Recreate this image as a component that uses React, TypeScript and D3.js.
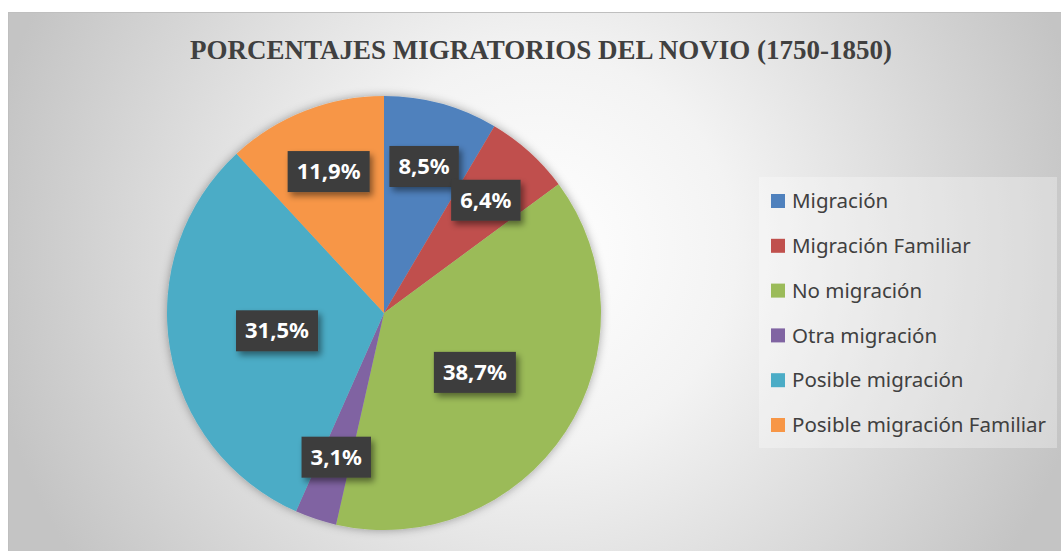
import React, { useEffect, useRef } from "react";
import * as d3 from "d3";

const title = "PORCENTAJES MIGRATORIOS DEL NOVIO (1750-1850)";
const categories = [
	"Migración",
	"Migración Familiar",
	"No migración",
	"Otra migración",
	"Posible migración",
	"Posible migración Familiar",
];
const values = [8.5, 6.4, 38.7, 3.1, 31.5, 11.9];
const labels = ["8,5%", "6,4%", "38,7%", "3,1%", "31,5%", "11,9%"];
const colors = ["#4F81BD", "#C0504D", "#9BBB59", "#8064A2", "#4BACC6", "#F79646"];

const W = 1061;
const H = 551;

export default function App() {
	const ref = useRef<SVGSVGElement>(null);

	useEffect(() => {
		const svg = d3.select(ref.current);
		svg.selectAll("*").remove();

		const defs = svg.append("defs");
		const grad = defs
			.append("radialGradient")
			.attr("id", "bg")
			.attr("gradientUnits", "userSpaceOnUse")
			.attr("cx", 540)
			.attr("cy", 250)
			.attr("r", 560);
		grad.append("stop").attr("offset", "0%").attr("stop-color", "#ffffff");
		grad.append("stop").attr("offset", "35%").attr("stop-color", "#f3f3f3");
		grad.append("stop").attr("offset", "100%").attr("stop-color", "#c4c4c4");

		const pieShadow = defs.append("filter").attr("id", "pieShadow")
			.attr("x", "-20%").attr("y", "-20%").attr("width", "140%").attr("height", "140%");
		pieShadow.append("feDropShadow")
			.attr("dx", 0).attr("dy", 0).attr("stdDeviation", 5)
			.attr("flood-color", "#000").attr("flood-opacity", 0.35);

		const boxShadow = defs.append("filter").attr("id", "boxShadow")
			.attr("x", "-20%").attr("y", "-30%").attr("width", "150%").attr("height", "180%");
		boxShadow.append("feDropShadow")
			.attr("dx", 3).attr("dy", 4).attr("stdDeviation", 3)
			.attr("flood-color", "#000").attr("flood-opacity", 0.45);

		// chart area
		svg.append("rect")
			.attr("x", 8.5).attr("y", 12.5)
			.attr("width", W).attr("height", H)
			.attr("fill", "url(#bg)")
			.attr("stroke", "#bfbfbf");

		svg.append("text")
			.attr("x", 541)
			.attr("y", 59)
			.attr("text-anchor", "middle")
			.attr("font-family", "'Liberation Serif', 'Times New Roman', serif")
			.attr("font-weight", "bold")
			.attr("font-size", 27)
			.attr("fill", "#404040")
			.text(title);

		// pie
		const cx = 384;
		const cy = 313;
		const R = 217;
		const pie = d3.pie<number>().sort(null).value((d) => d);
		const arcs = pie(values);
		const arc = d3.arc<d3.PieArcDatum<number>>().innerRadius(0).outerRadius(R);

		const g = svg.append("g").attr("transform", `translate(${cx},${cy})`);
		g.append("g")
			.attr("filter", "url(#pieShadow)")
			.selectAll("path")
			.data(arcs)
			.join("path")
			.attr("d", arc)
			.attr("fill", (d, i) => colors[i]);

		// data labels, best-fit style: big slices nearer the middle
		const lbl = g.selectAll("g.lbl")
			.data(arcs)
			.join("g")
			.attr("class", "lbl")
			.attr("transform", (d) => {
				const r = d.value > 20 ? R * 0.5 : R * 0.7;
				const a = (d.startAngle + d.endAngle) / 2;
				return `translate(${Math.sin(a) * r},${-Math.cos(a) * r})`;
			});

		lbl.append("text")
			.attr("text-anchor", "middle")
			.attr("dy", "0.35em")
			.attr("font-family", "'Noto Sans', sans-serif")
			.attr("font-weight", "bold")
			.attr("font-size", 22)
			.attr("fill", "#ffffff")
			.text((d, i) => labels[i])
			.each(function () {
				const b = (this as SVGTextElement).getBBox();
				d3.select((this as SVGTextElement).parentNode as SVGGElement)
					.insert("rect", "text")
					.attr("x", b.x - 9)
					.attr("y", -20.5)
					.attr("width", b.width + 18)
					.attr("height", 41)
					.attr("fill", "#3d3d3d")
					.attr("filter", "url(#boxShadow)");
			});

		// legend
		const legend = svg.append("g");
		legend.append("rect")
			.attr("x", 759).attr("y", 177)
			.attr("width", 298).attr("height", 271)
			.attr("fill", "#ffffff").attr("fill-opacity", 0.3);

		const items = legend.selectAll("g.item")
			.data(categories)
			.join("g")
			.attr("class", "item")
			.attr("transform", (d, i) => `translate(771,${201 + i * 44.8})`);

		items.append("rect")
			.attr("x", 0).attr("y", -7)
			.attr("width", 14).attr("height", 14)
			.attr("fill", (d, i) => colors[i]);

		items.append("text")
			.attr("x", 21)
			.attr("dy", "0.35em")
			.attr("font-family", "'Noto Sans', sans-serif")
			.attr("font-size", 20.5)
			.attr("fill", "#404040")
			.text((d) => d);
	}, []);

	return (
		<svg
			ref={ref}
			width={W}
			height={H}
			style={{ position: "absolute", left: 0, top: 0, background: "#fff" }}
		/>
	);
}
